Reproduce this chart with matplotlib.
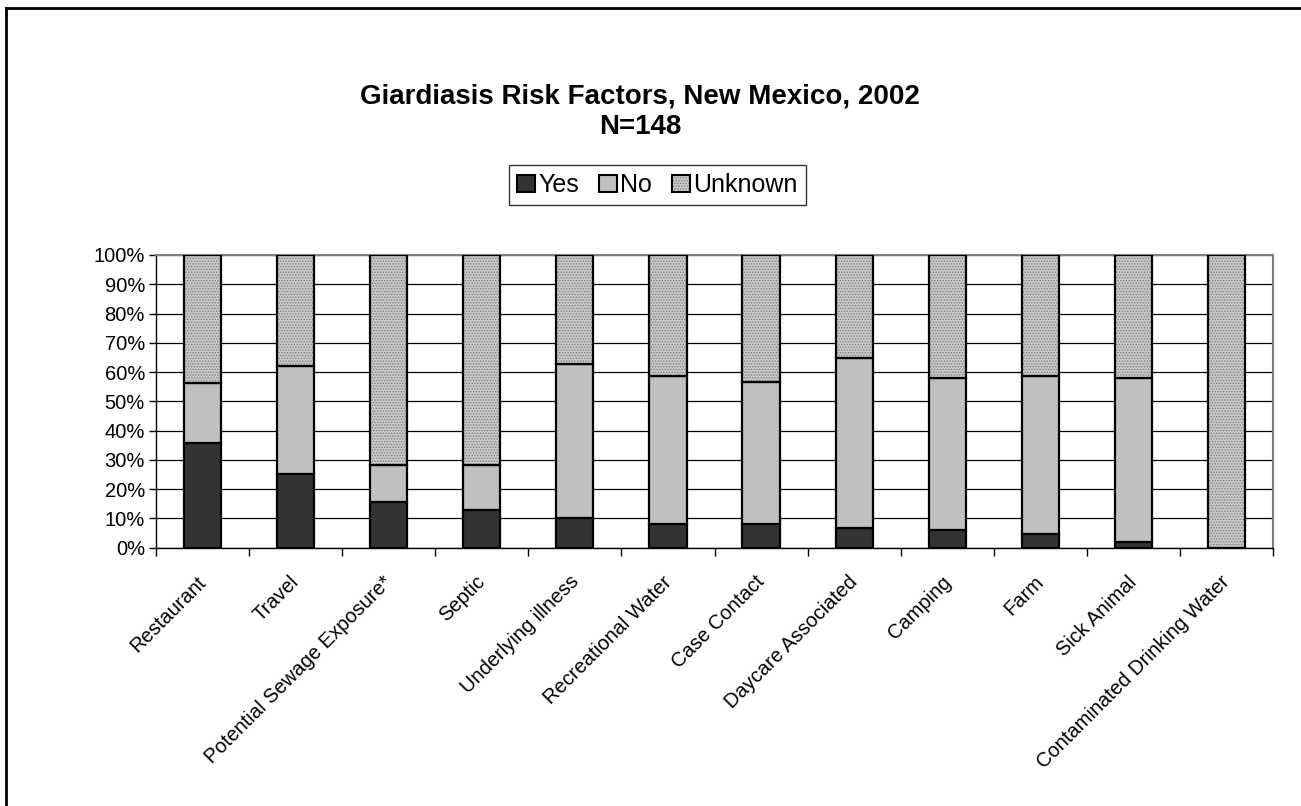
import matplotlib
matplotlib.use("Agg")
import matplotlib.pyplot as plt
import matplotlib.transforms as mtransforms
from matplotlib.patches import Patch
from matplotlib.lines import Line2D
from matplotlib.ticker import MultipleLocator, PercentFormatter
import numpy as np

plt.rcParams['font.family'] = ['Liberation Sans', 'DejaVu Sans']
plt.rcParams['hatch.linewidth'] = 0.6

categories = ["Restaurant", "Travel", "Potential Sewage Exposure*", "Septic",
              "Underlying illness", "Recreational Water", "Case Contact",
              "Daycare Associated", "Camping", "Farm", "Sick Animal",
              "Contaminated Drinking Water"]
yes_pct = [35.8, 25.0, 15.5, 12.8, 10.1, 8.1, 8.1, 6.8, 6.1, 4.7, 2.0, 0.0]
no_pct = [20.3, 37.2, 12.9, 15.6, 52.7, 50.7, 48.6, 58.1, 52.0, 54.1, 56.1, 0.0]
unknown_pct = [43.9, 37.8, 71.6, 71.6, 37.2, 41.2, 43.3, 35.1, 41.9, 41.2, 41.9, 100.0]
series_names = ["Yes", "No", "Unknown"]

title = "Giardiasis Risk Factors, New Mexico, 2002\nN=148"

fig = plt.figure(figsize=(13.01, 8.06), dpi=100)
ax = fig.add_axes([156 / 1301, 1 - 547.6 / 806, (1273 - 156) / 1301, (547.6 - 255) / 806])

x = np.arange(len(categories))
width = 0.4
yes = np.array(yes_pct)
no = np.array(no_pct)
unk = np.array(unknown_pct)

c_yes = "#333333"
c_no = "#c0c0c0"
c_unk = "#c6c6c6"
c_unk_dots = "#7f7f7f"

ax.bar(x, yes, width, color=c_yes, edgecolor="black", linewidth=1.6, zorder=3)
ax.bar(x, no, width, bottom=yes, color=c_no, edgecolor="black", linewidth=1.6, zorder=3)
ax.bar(x, unk, width, bottom=yes + no, color=c_unk, edgecolor=c_unk_dots,
       hatch="......", linewidth=0, zorder=3)
ax.bar(x, unk, width, bottom=yes + no, fill=False, edgecolor="black",
       linewidth=1.6, zorder=4)

ax.set_xlim(-0.5, len(categories) - 0.5)
ax.set_ylim(0, 100)
ax.yaxis.set_major_locator(MultipleLocator(10))
ax.yaxis.set_major_formatter(PercentFormatter(decimals=0))
ax.grid(axis="y", color="black", linewidth=0.9, zorder=0)
ax.set_axisbelow(True)

ax.set_xticks(x)
ax.set_xticklabels(categories, rotation=45, ha="right", rotation_mode="anchor",
                   fontsize=14.5)
ax.tick_params(axis="x", which="major", length=0, pad=12)
ax.set_xticks(np.arange(len(categories) + 1) - 0.5, minor=True)
ax.tick_params(axis="x", which="minor", length=6, width=1, color="black", direction="out")
ax.tick_params(axis="y", length=5, width=1, labelsize=14.5, pad=3)

# nudge the slanted category labels down and to the left
shift = mtransforms.ScaledTranslation(-6 / 100, -8 / 100, fig.dpi_scale_trans)
for lbl in ax.get_xticklabels():
    lbl.set_transform(lbl.get_transform() + shift)

for side in ("left", "bottom"):
    ax.spines[side].set_color("black")
    ax.spines[side].set_linewidth(1)
for side in ("top", "right"):
    ax.spines[side].set_color("#808080")
    ax.spines[side].set_linewidth(1.5)

fig.text(640 / 1301, 1 - 112 / 806, title, ha="center", va="center",
         fontsize=20, fontweight="bold", linespacing=1.2)

handles = [
    Patch(facecolor=c_yes, edgecolor="black", linewidth=1.5),
    Patch(facecolor=c_no, edgecolor="black", linewidth=1.5),
    (Patch(facecolor=c_unk, edgecolor=c_unk_dots, hatch="......", linewidth=0),
     Patch(fill=False, edgecolor="black", linewidth=1.5)),
]
leg = fig.legend(handles, series_names, loc="center", ncol=3,
                 bbox_to_anchor=(657.5 / 1301, 1 - 185 / 806), fontsize=18,
                 frameon=True, fancybox=False, handlelength=0.7, handleheight=0.7,
                 handletextpad=0.15, columnspacing=0.8, borderpad=0.32,
                 borderaxespad=0)
leg.get_frame().set_edgecolor("black")
leg.get_frame().set_linewidth(1)

fig.add_artist(Line2D([6 / 1301, 6 / 1301], [0, 1 - 8 / 806], color="black",
                      linewidth=2, transform=fig.transFigure))
fig.add_artist(Line2D([6 / 1301, 1], [1 - 8 / 806, 1 - 8 / 806], color="black",
                      linewidth=2, transform=fig.transFigure))

fig.savefig("out.png", dpi=100)
